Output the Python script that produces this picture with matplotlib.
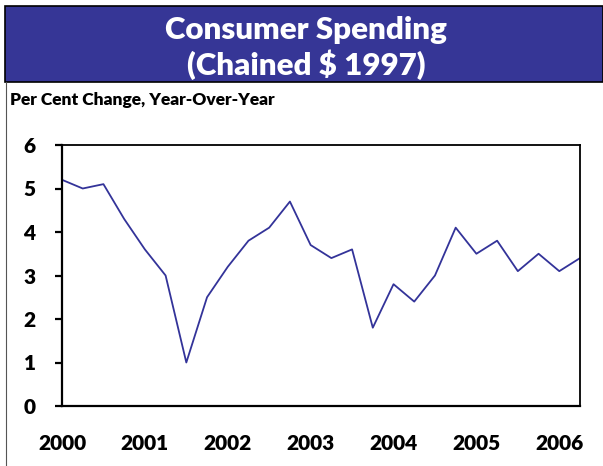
import matplotlib
matplotlib.use("Agg")
import matplotlib.pyplot as plt
from matplotlib.patches import Rectangle
from matplotlib.lines import Line2D

values = [5.2, 5.0, 5.1, 4.3, 3.6, 3.0, 1.0, 2.5, 3.2, 3.8, 4.1, 4.7,
          3.7, 3.4, 3.6, 1.8, 2.8, 2.4, 3.0, 4.1, 3.5, 3.8, 3.1, 3.5,
          3.1, 3.4]
year_labels = ["2000", "2001", "2002", "2003", "2004", "2005", "2006"]
title = "Consumer Spending\n(Chained $ 1997)"
subtitle = "Per Cent Change, Year-Over-Year"

W, H = 603, 466
fig = plt.figure(figsize=(W / 100, H / 100), dpi=100)
plt.rcParams['font.family'] = ['Lato', 'DejaVu Sans']

# banner
fig.patches.append(Rectangle((5 / W, 1 - 82 / H), 1 - 5 / W, 76 / H,
                             transform=fig.transFigure, facecolor='#363696',
                             edgecolor='black', linewidth=1.2, zorder=0))
fig.lines.append(Line2D([5.5 / W, 5.5 / W], [0, 1 - 82 / H], transform=fig.transFigure,
                        color='#555555', linewidth=0.8))
fig.text(306 / W, 1 - 48 / H, title, ha='center', va='center', color='white',
         fontsize=22.5, fontweight='heavy', linespacing=1.25)
fig.text(10 / W, 1 - 100 / H, subtitle, ha='left', va='center', color='black',
         fontsize=12.5, fontweight='heavy')

ax = fig.add_axes([62 / W, 1 - 406 / H, (580 - 62) / W, (406 - 145) / H])
x = list(range(len(values)))
ax.plot(x, values, color='#333399', linewidth=1.3)
ax.set_xlim(0, len(values) - 1)
ax.set_ylim(0, 6)
ax.set_yticks(range(0, 7))
ax.set_yticklabels([str(i) for i in range(0, 7)])
ax.set_xticks(list(range(0, len(values), 4)))
ax.set_xticklabels(year_labels)
ax.tick_params(axis='y', direction='out', length=5, width=1.6, pad=14,
               labelsize=15)
ax.tick_params(axis='x', length=0, pad=20, labelsize=15)
for lab in ax.get_xticklabels() + ax.get_yticklabels():
    lab.set_fontweight('heavy')
for s in ax.spines.values():
    s.set_linewidth(1.3)
    s.set_color('black')
ax.spines['left'].set_linewidth(1.6)
ax.spines['bottom'].set_linewidth(1.6)

fig.savefig("out.png", dpi=100)
